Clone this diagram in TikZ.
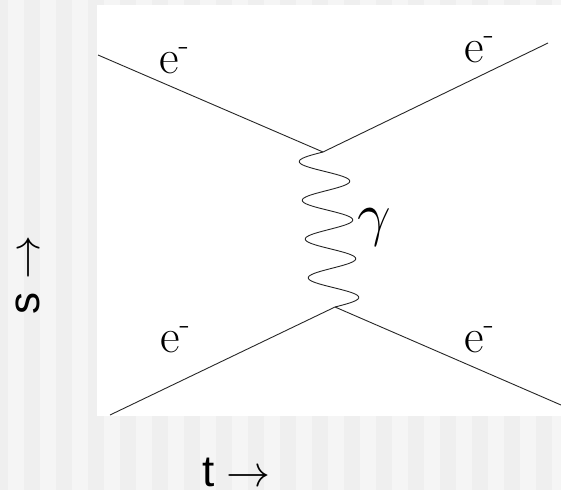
\RequirePackage{fix-cm}
\documentclass[tikz,border=0pt]{standalone}
\usepackage{fontspec}
\newfontfamily\axisfont{Liberation Sans}
\usetikzlibrary{calc}
\definecolor{slidelight}{HTML}{F5F5F5}
\definecolor{slidedark}{HTML}{EFEFEF}

\begin{document}
\begin{tikzpicture}[
  x=1pt, y=-1pt,
  electron/.style={line width=0.9pt, black!85},
  photon/.style={line width=0.9pt, black!85, line join=round},
  elabel/.style={font=\rmfamily\fontsize{48}{48}\selectfont, anchor=base west, inner sep=0pt},
  axislabel/.style={font=\axisfont\fontsize{44}{44}\selectfont, anchor=base, inner sep=0pt},
]
\useasboundingbox (0,0) rectangle (561,490);

% === SLIDE BACKGROUND ===
\fill[slidelight] (0,0) rectangle (561,490);
\foreach \sx in {-8.3,23.7,...,560}
  \fill[slidedark] (\sx,0) rectangle (\sx+16,490);
\fill[white] (97,5) rectangle (561,416);

% === VERTICES AND LEGS ===
\coordinate (vtop) at (323,152);
\coordinate (vbot) at (335,307);
\coordinate (inTop) at (98,55);
\coordinate (outTop) at (548,43);
\coordinate (inBot) at (110,415);
\coordinate (outBot) at (561,405);

\draw[electron] (inTop) -- (vtop) -- (outTop);
\draw[electron] (inBot) -- (vbot) -- (outBot);
% photon: four periods between the vertices
\draw[photon] (vtop)
  \foreach \u in {0.005,0.01,...,0.996} { -- ($(vtop)!\u!(vbot) + ({-24.5*sin(1440*\u)},0)$) }
  -- (vbot);

% === PARTICLE LABELS ===
\node[elabel] (eInTop) at (159,73) {e\textsuperscript{-}};
\node[elabel] (eOutTop) at (464,62) {e\textsuperscript{-}};
\node[elabel] (eInBot) at (160,352) {e\textsuperscript{-}};
\node[elabel] (eOutBot) at (464,352) {e\textsuperscript{-}};
\node[elabel, font=\fontsize{60}{60}\selectfont] (gammaLbl) at (357,234) {$\gamma$};

% === AXES ===
\node[axislabel, rotate=90] (sAxis) at (39,275) {s $\rightarrow$};
\node[axislabel] (tAxis) at (236.5,486) {t $\rightarrow$};
\end{tikzpicture}
\end{document}
